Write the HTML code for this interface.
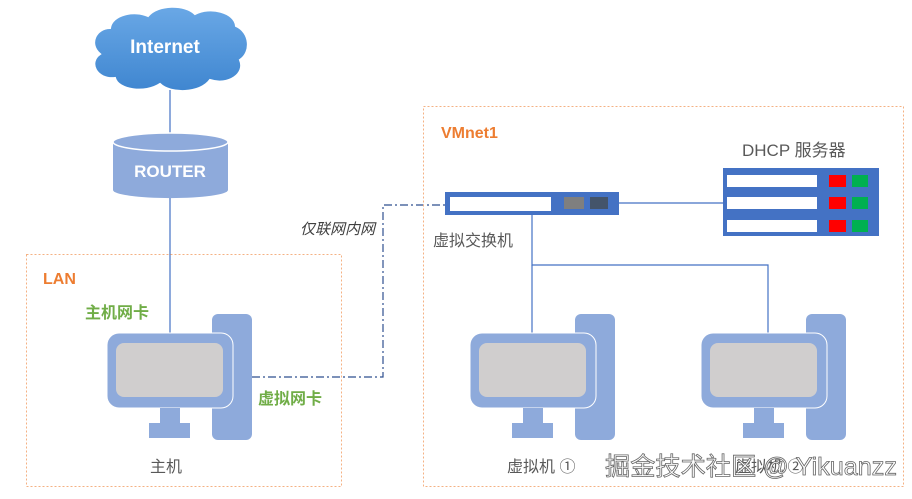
<!DOCTYPE html>
<html><head><meta charset="utf-8"><style>
body{margin:0;background:#fff;width:912px;height:499px;overflow:hidden;position:relative;font-family:"Liberation Sans","Noto Sans CJK SC",sans-serif}
.a{position:absolute}
</style></head><body>
<svg class="a" style="left:0;top:0" width="912" height="499" xmlns="http://www.w3.org/2000/svg">
<defs><linearGradient id="cg" x1="0" y1="0" x2="0" y2="1"><stop offset="0" stop-color="#6aa8e6"/><stop offset="1" stop-color="#3f86d0"/></linearGradient>
<g id="pc">
<rect x="105" y="-19" width="40" height="126" rx="6" fill="#8eaadb"/>
<rect x="0" y="0" width="126" height="75" rx="12" fill="#8eaadb" stroke="#fff" stroke-width="1"/>
<rect x="9" y="10" width="107" height="54" rx="8" fill="#d0cece"/>
<rect x="53" y="75" width="20" height="15" fill="#8eaadb"/>
<rect x="42" y="90" width="41" height="15" fill="#8eaadb"/>
</g></defs>
<path d="M110,28 C112,14 135,10 148,16 C158,4 185,4 195,14 C210,6 235,12 236,26 C250,32 252,52 240,60 C246,74 228,86 210,80 C200,94 170,94 160,84 C145,94 118,90 115,78 C96,80 88,62 100,54 C88,44 96,28 110,28 Z" fill="url(#cg)" stroke="#fff" stroke-width="2"/>
<g stroke="#4472c4" stroke-width="1.2" fill="none">
<line x1="170" y1="90" x2="170" y2="136"/>
<line x1="170" y1="196" x2="170" y2="334"/>
<line x1="619" y1="203" x2="723" y2="203"/>
<polyline points="532,215 532,265 768,265 768,334"/>
<line x1="532" y1="265" x2="532" y2="334"/>
</g>
<polyline points="252,377 383,377 383,205 445,205" fill="none" stroke="#2f4f8f" stroke-width="1.2" stroke-dasharray="8,3,2,3"/>
<path d="M113,142 L113,190 A57,8 0 0 0 228,190 L228,142 Z" fill="#8eaadb"/>
<ellipse cx="170.5" cy="142" rx="57.5" ry="9" fill="#8eaadb" stroke="#fff" stroke-width="1.5"/>
<rect x="26.5" y="254.5" width="315" height="232" fill="none" stroke="#f4b183" stroke-dasharray="2,2"/>
<rect x="423.5" y="106.5" width="480" height="380" fill="none" stroke="#f4b183" stroke-dasharray="2,2"/>
<rect x="445" y="192" width="174" height="23" fill="#4472c4"/>
<rect x="450" y="197" width="101" height="14" fill="#fff"/>
<rect x="564" y="197" width="20" height="12" fill="#7f7f7f"/>
<rect x="590" y="197" width="18" height="12" fill="#44546a"/>
<rect x="723" y="168" width="156" height="68" fill="#4472c4"/>
<g fill="#fff"><rect x="727" y="175" width="90" height="12"/><rect x="727" y="197" width="90" height="12"/><rect x="727" y="220" width="90" height="12"/></g>
<g fill="#ff0000"><rect x="829" y="175" width="17" height="12"/><rect x="829" y="197" width="17" height="12"/><rect x="829" y="220" width="17" height="12"/></g>
<g fill="#00b050"><rect x="852" y="175" width="16" height="12"/><rect x="852" y="197" width="16" height="12"/><rect x="852" y="220" width="16" height="12"/></g>
<use href="#pc" x="107" y="333"/>
<use href="#pc" x="470" y="333"/>
<use href="#pc" x="701" y="333"/>
<g font-family="Liberation Sans,Noto Sans CJK SC,sans-serif">
<text x="165" y="53" fill="#fff" font-size="19" font-weight="bold" text-anchor="middle">Internet</text>
<text x="170" y="177" fill="#fff" font-size="17" font-weight="bold" text-anchor="middle">ROUTER</text>
<text x="43" y="284" fill="#ed7d31" font-size="16" font-weight="bold">LAN</text>
<text x="441" y="138" fill="#ed7d31" font-size="16" font-weight="bold">VMnet1</text>
<text x="85" y="318" fill="#70ad47" font-size="16" font-weight="bold">主机网卡</text>
<text x="258" y="404" fill="#70ad47" font-size="16" font-weight="bold">虚拟网卡</text>
<text x="150" y="472" fill="#595959" font-size="16">主机</text>
<text x="300" y="234" fill="#404040" font-size="15" font-style="italic">仅联网内网</text>
<text x="433" y="246" fill="#595959" font-size="16">虚拟交换机</text>
<text x="742" y="156" fill="#595959" font-size="17">DHCP 服务器</text>
<text x="507" y="472" fill="#595959" font-size="16">虚拟机 ①</text>
<text x="735" y="472" fill="#595959" font-size="16">虚拟机 ②</text>
<text x="605" y="475" fill="#fff" stroke="#666" stroke-width="0.8" font-size="25" textLength="292" lengthAdjust="spacingAndGlyphs">掘金技术社区 @ Yikuanzz</text>
</g>
</svg>
</body></html>
